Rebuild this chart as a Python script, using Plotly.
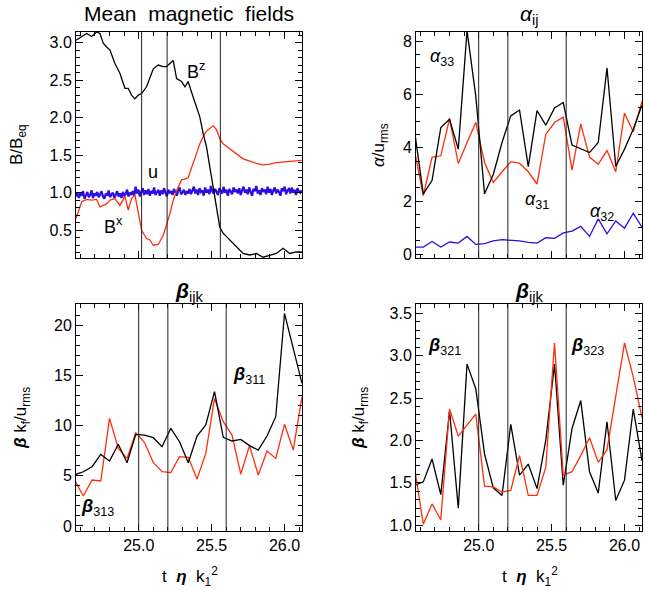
import plotly.graph_objects as go

# ---------------- data ----------------
# Top-left: mean magnetic fields (dense time series)
tl_t = [24.570, 24.609, 24.643, 24.677, 24.712, 24.734, 24.757, 24.780, 24.803, 24.837,
        24.871, 24.906, 24.928, 24.951, 24.974, 24.997, 25.020, 25.054, 25.077, 25.100,
        25.134, 25.168, 25.191, 25.214, 25.237, 25.260, 25.294, 25.317, 25.339, 25.362,
        25.396, 25.419, 25.442, 25.465, 25.488, 25.511, 25.533, 25.556, 25.579, 25.625,
        25.670, 25.716, 25.762, 25.807, 25.853, 25.899, 25.944, 25.990, 26.036, 26.081,
        26.118]
bz = [3.03, 3.08, 3.12, 3.08, 3.14, 3.12, 2.99, 2.94, 2.90, 2.72,
      2.59, 2.39, 2.39, 2.30, 2.25, 2.30, 2.32, 2.41, 2.54, 2.65,
      2.70, 2.68, 2.68, 2.72, 2.76, 2.52, 2.48, 2.41, 2.48, 2.34,
      2.14, 2.01, 1.79, 1.61, 1.34, 1.08, 0.81, 0.54, 0.46, 0.37,
      0.28, 0.19, 0.17, 0.19, 0.14, 0.17, 0.19, 0.26, 0.19, 0.21,
      0.21]
bx = [0.66, 0.88, 0.91, 0.90, 0.91, 0.81, 0.83, 0.85, 0.90, 0.92,
      0.83, 0.95, 0.77, 0.92, 0.97, 0.75, 0.50, 0.39, 0.37, 0.30,
      0.31, 0.43, 0.57, 0.72, 0.90, 1.03, 1.17, 1.18, 1.20, 1.32,
      1.52, 1.65, 1.75, 1.82, 1.86, 1.89, 1.84, 1.72, 1.65, 1.58,
      1.51, 1.45, 1.42, 1.39, 1.37, 1.38, 1.40, 1.41, 1.42, 1.43,
      1.43]
u_rms = [0.95, 1.00, 0.93, 0.99, 0.96, 1.02, 0.92, 0.98, 1.01, 0.94, 0.97, 1.03, 0.93, 0.99, 0.96, 1.01, 0.94, 0.98, 1.02, 0.95,
         0.92, 0.99, 0.96, 1.03, 0.94, 0.98, 1.00, 0.93, 0.97, 1.02, 0.95, 0.99, 0.93, 1.01, 0.96, 0.98, 1.04, 0.95, 1.00, 0.97,
         1.02, 0.96, 1.08, 0.99, 1.04, 0.95, 1.01, 1.06, 0.97, 1.03, 0.98, 1.05, 0.96, 1.02, 0.99, 1.07, 0.97, 1.01, 1.04, 0.96,
         1.03, 0.98, 1.06, 1.00, 0.95, 1.04, 0.99, 1.02, 0.97, 1.05, 1.01, 0.96, 1.03, 1.07, 0.98, 1.00, 1.04, 0.97, 1.02, 0.99,
         1.05, 0.98, 1.03, 1.08, 0.99, 1.04, 0.97, 1.06, 1.01, 1.03, 0.96, 1.07, 1.00, 1.04, 0.98, 1.09, 1.02, 0.99, 1.05, 1.01,
         0.97, 1.06, 1.03, 0.99, 1.08, 1.00, 1.04, 0.96, 1.05, 1.02, 0.98, 1.07, 1.01, 1.04, 0.99, 1.06, 0.97, 1.03, 1.08, 1.00,
         1.04, 0.98, 1.07, 1.01, 0.96, 1.05, 1.02, 1.09, 0.99, 1.03, 0.97, 1.06, 1.01, 1.04, 0.98, 1.08, 1.00, 1.05, 0.97, 1.03,
         1.07, 0.99, 1.04, 1.01, 0.96, 1.06, 1.02, 1.08, 0.98, 1.03, 1.05, 0.99, 1.07, 1.00, 1.04, 0.97, 1.06, 1.02, 1.00, 1.03]
u_t_start, u_t_end = 24.57, 26.118

# Sparse coefficient time series
t_coef = [24.56, 24.62, 24.68, 24.74, 24.80, 24.86, 24.92, 24.98, 25.04, 25.10,
          25.16, 25.22, 25.28, 25.34, 25.40, 25.46, 25.52, 25.58, 25.64, 25.70,
          25.76, 25.82, 25.88, 25.94, 26.00, 26.06, 26.12]
alpha33 = [4.63, 2.27, 2.77, 4.76, 5.07, 3.95, 8.40, 5.94, 2.27, 3.00,
           4.20, 5.20, 5.42, 3.29, 5.40, 4.85, 5.50, 5.70, 4.10, 3.95,
           3.82, 4.20, 7.00, 3.30, 3.95, 4.70, 5.60]
alpha31 = [3.89, 2.20, 3.64, 3.70, 5.10, 3.41, 4.20, 4.95, 3.45, 2.70,
           3.10, 3.47, 3.42, 3.10, 2.64, 4.50, 4.95, 5.15, 3.16, 4.90,
           3.65, 3.38, 3.90, 3.10, 5.30, 4.60, 5.75]
alpha32 = [0.27, 0.27, 0.48, 0.27, 0.46, 0.42, 0.67, 0.37, 0.40, 0.50,
           0.55, 0.53, 0.50, 0.45, 0.42, 0.62, 0.60, 0.80, 0.87, 1.05,
           0.67, 1.33, 0.77, 1.25, 0.98, 1.54, 1.02]
beta311 = [5.10, 5.40, 5.90, 7.13, 6.47, 8.13, 6.30, 9.12, 9.05, 8.79,
           7.89, 9.72, 8.39, 6.30, 8.96, 10.05, 13.37, 8.82, 8.46, 8.62,
           8.00, 7.56, 8.96, 10.88, 21.16, 17.70, 14.20]
beta313 = [4.58, 2.99, 4.58, 4.48, 10.71, 7.73, 6.73, 9.29, 8.30, 6.33,
           5.40, 5.31, 6.90, 6.83, 4.68, 7.23, 12.70, 10.38, 9.05, 5.17,
           8.00, 5.07, 7.46, 6.73, 10.12, 7.56, 12.87]
beta321 = [1.47, 1.51, 1.78, 1.36, 2.35, 1.20, 2.90, 2.61, 1.84, 1.44,
           1.35, 2.19, 1.59, 1.72, 1.43, 2.00, 2.90, 1.47, 2.14, 2.47,
           1.63, 1.38, 2.22, 1.29, 1.53, 2.37, 1.76]
beta323 = [1.68, 1.01, 1.25, 1.06, 2.37, 2.05, 2.18, 2.31, 1.46, 1.45,
           1.39, 1.41, 1.82, 1.35, 1.35, 1.68, 3.15, 1.59, 1.63, 1.82,
           2.03, 1.74, 1.89, 2.53, 3.15, 2.75, 2.27]

# vertical marker times
tl_vlines = [25.02, 25.195, 25.56]
vlines = [25.0, 25.2, 25.6]

# ---------------- style ----------------
BLACK = "#000000"
RED = "#ff2d0a"
BLUE = "#2a0fe0"
FONT = "Liberation Sans"
LW = 1.3

W, H = 645, 590

n_u = len(u_rms)
u_t = [u_t_start + (u_t_end - u_t_start) * i / (n_u - 1) for i in range(n_u)]

fig = go.Figure()

def add(x, y, color, xa, ya, width=LW):
    fig.add_trace(go.Scatter(x=x, y=y, mode="lines", line=dict(color=color, width=width),
                             xaxis=xa, yaxis=ya, showlegend=False, hoverinfo="skip"))

add(u_t, u_rms, BLUE, "x", "y", 2.2)
add(tl_t, bx, RED, "x", "y")
add(tl_t, bz, BLACK, "x", "y")

add(t_coef, alpha32, BLUE, "x2", "y2")
add(t_coef, alpha31, RED, "x2", "y2")
add(t_coef, alpha33, BLACK, "x2", "y2")

add(t_coef, beta313, RED, "x3", "y3")
add(t_coef, beta311, BLACK, "x3", "y3")

add(t_coef, beta321, BLACK, "x4", "y4")
add(t_coef, beta323, RED, "x4", "y4")

def px(x):
    return x / W

def py(y):
    return 1 - y / H

XL = [px(76), px(302)]
XR = [px(416), px(642)]
YT = [py(258), py(32)]
YB = [py(531), py(304)]

XRANGE = [24.57, 26.12]

def axis_common(**kw):
    d = dict(showline=True, linecolor=BLACK, linewidth=1, mirror="allticks",
             ticks="inside", ticklen=7, tickwidth=1, tickcolor=BLACK,
             showgrid=False, zeroline=False, automargin=False,
             tickfont=dict(family=FONT, size=16, color=BLACK))
    d.update(kw)
    return d

def xaxis(domain, anchor, labels):
    return axis_common(domain=domain, anchor=anchor, range=XRANGE,
                       tickmode="linear", tick0=25.0, dtick=0.5, tickformat=".1f",
                       showticklabels=labels,
                       minor=dict(ticks="inside", ticklen=4, tickcolor=BLACK, dtick=0.1, tick0=25.0))

def yaxis(domain, anchor, rng, dtick, mdtick, fmt):
    return axis_common(domain=domain, anchor=anchor, range=rng,
                       tickmode="linear", tick0=0, dtick=dtick, tickformat=fmt,
                       minor=dict(ticks="inside", ticklen=4, tickcolor=BLACK, dtick=mdtick, tick0=0))

fig.update_layout(
    width=W, height=H,
    margin=dict(l=0, r=0, t=0, b=0, autoexpand=False),
    paper_bgcolor="white", plot_bgcolor="white",
    xaxis=xaxis(XL, "y", False),
    yaxis=yaxis(YT, "x", [0.13, 3.14], 0.5, 0.1, ".1f"),
    xaxis2=xaxis(XR, "y2", False),
    yaxis2=yaxis(YT, "x2", [-0.14, 8.35], 2, 0.5, "d"),
    xaxis3=xaxis(XL, "y3", True),
    yaxis3=yaxis(YB, "x3", [-0.5, 22.1], 5, 1, "d"),
    xaxis4=xaxis(XR, "y4", True),
    yaxis4=yaxis(YB, "x4", [0.93, 3.61], 0.5, 0.1, ".1f"),
)

shapes = []
for v in tl_vlines:
    shapes.append(dict(type="line", xref="x", yref="y domain", x0=v, x1=v, y0=0, y1=1,
                       line=dict(color="#222222", width=1)))
for xa, ya in [("x2", "y2"), ("x3", "y3"), ("x4", "y4")]:
    for v in vlines:
        shapes.append(dict(type="line", xref=xa, yref=ya + " domain", x0=v, x1=v, y0=0, y1=1,
                           line=dict(color="#222222", width=1)))
fig.update_layout(shapes=shapes)

def ann(x, y, text, size=17, angle=0):
    fig.add_annotation(x=px(x), y=py(y), xref="paper", yref="paper", text=text,
                       showarrow=False, textangle=angle, xanchor="center", yanchor="middle",
                       font=dict(family=FONT, size=size, color=BLACK))

BETA = "<b><i>β</i></b>"
ALPHA = "<i>α</i>"
ETA = "<b><i>η</i></b>"

# panel titles
ann(189, 14, "Mean&nbsp; magnetic&nbsp; fields", 21)
ann(529, 15, ALPHA + "<sub>ij</sub>", 21)
ann(189, 292, BETA + "<sub>ijk</sub>", 21)
ann(529, 292, BETA + "<sub>ijk</sub>", 21)

# axis titles
ann(18, 145, "B/B<sub>eq</sub>", 17, -90)
ann(380, 145, ALPHA + "/u<sub>rms</sub>", 17, -90)
ann(22, 418, BETA + " k<sub>f</sub>/u<sub>rms</sub>", 17, -90)
ann(360, 418, BETA + " k<sub>f</sub>/u<sub>rms</sub>", 17, -90)
ann(190, 576, "t&nbsp; " + ETA + "&nbsp; k<sub>1</sub><sup>2</sup>", 17)
ann(530, 576, "t&nbsp; " + ETA + "&nbsp; k<sub>1</sub><sup>2</sup>", 17)

# curve labels
ann(196, 70, "B<sup>z</sup>", 18)
ann(153, 172, "u", 18)
ann(113, 226, "B<sup>x</sup>", 18)
ann(442, 57, ALPHA + "<sub>33</sub>", 18)
ann(537, 200, ALPHA + "<sub>31</sub>", 18)
ann(602, 212, ALPHA + "<sub>32</sub>", 18)
ann(97, 507, BETA + "<sub>313</sub>", 18)
ann(249, 375, BETA + "<sub>311</sub>", 18)
ann(444, 346, BETA + "<sub>321</sub>", 18)
ann(587, 346, BETA + "<sub>323</sub>", 18)

fig.write_html("out.html", config={"displayModeBar": False},
               post_script="document.body.style.margin='0px';")
